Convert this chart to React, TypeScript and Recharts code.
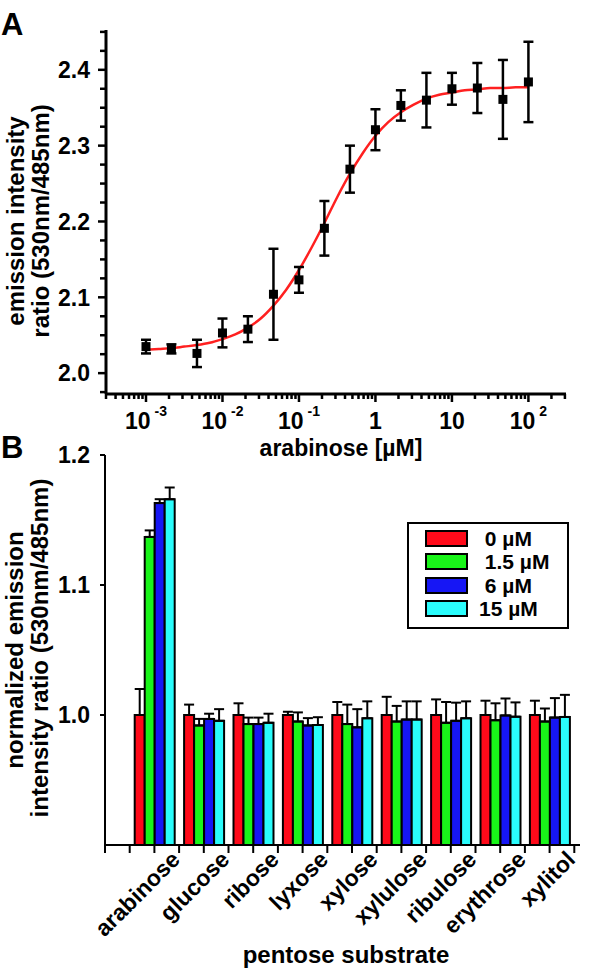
import React from "react";
import {
  ComposedChart, Line, Scatter, ErrorBar, XAxis, YAxis,
  BarChart, Bar, Legend,
} from "recharts";

const FONT = "'Liberation Sans', Arial, Helvetica, sans-serif";

// ---- panel A: titration with arabinose ----
const arabinoseConc = [0.001, 0.00215, 0.00464, 0.01, 0.0215, 0.0464, 0.1, 0.215, 0.464, 1, 2.15, 4.64, 10, 21.5, 46.4, 100];
const emissionRatio = [2.035, 2.032, 2.026, 2.053, 2.058, 2.104, 2.123, 2.191, 2.269, 2.321, 2.353, 2.360, 2.375, 2.376, 2.361, 2.384];
const emissionErr = [0.009, 0.006, 0.018, 0.019, 0.017, 0.060, 0.017, 0.036, 0.031, 0.027, 0.020, 0.036, 0.021, 0.033, 0.052, 0.053];

// fitted curve
const fitConc = [0.001, 0.00147, 0.00215, 0.00316, 0.00464, 0.00681, 0.01, 0.0147, 0.0215, 0.0316, 0.0464, 0.0681, 0.1, 0.147, 0.215, 0.316, 0.464, 0.681, 1, 1.47, 2.15, 3.16, 4.64, 6.81, 10, 14.7, 21.5, 31.6, 46.4, 68.1, 100];
const fitRatio = [2.031, 2.032, 2.033, 2.035, 2.037, 2.040, 2.045, 2.051, 2.060, 2.072, 2.089, 2.110, 2.136, 2.166, 2.198, 2.232, 2.263, 2.290, 2.313, 2.331, 2.344, 2.354, 2.362, 2.367, 2.370, 2.373, 2.374, 2.376, 2.376, 2.377, 2.377];

const xMajorTicks = [0.001, 0.01, 0.1, 1, 10, 100];
const xMajorBase = ["10", "10", "10", "1", "10", "10"];
const xMajorSup = ["-3", "-2", "-1", "", "", "2"];
const yMajorTicks = [2.0, 2.1, 2.2, 2.3, 2.4];
const yMajorLabels = ["2.0", "2.1", "2.2", "2.3", "2.4"];

// ---- panel B: substrate specificity ----
const substrates = ["arabinose", "glucose", "ribose", "lyxose", "xylose", "xylulose", "ribulose", "erythrose", "xylitol"];
const seriesNames = [" 0 µM", " 1.5 µM", " 6 µM", "15 µM"];
const ratio0 = [1.0, 1.0, 1.0, 1.0, 1.0, 1.0, 1.0, 1.0, 1.0];
const err0 = [0.020, 0.008, 0.009, 0.0025, 0.010, 0.014, 0.012, 0.011, 0.011];
const ratio1_5 = [1.137, 0.992, 0.993, 0.995, 0.993, 0.995, 0.994, 0.996, 0.995];
const err1_5 = [0.005, 0.005, 0.005, 0.007, 0.015, 0.012, 0.016, 0.013, 0.010];
const ratio6 = [1.163, 0.997, 0.993, 0.992, 0.9905, 0.9965, 0.9955, 0.9997, 0.998];
const err6 = [0.003, 0.004, 0.005, 0.0056, 0.014, 0.014, 0.014, 0.013, 0.015];
const ratio15 = [1.166, 0.9955, 0.994, 0.9923, 0.9975, 0.9965, 0.9975, 0.9987, 0.9985];
const err15 = [0.009, 0.009, 0.007, 0.006, 0.013, 0.014, 0.013, 0.011, 0.017];
const barYTicks = [1.0, 1.1, 1.2];
const barYLabels = ["1.0", "1.1", "1.2"];

const COLORS = ["#ff0a1a", "#19f519", "#1616f5", "#2afcfc"];

const scatterData = arabinoseConc.map((x, i) => ({ x, y: emissionRatio[i], err: emissionErr[i] }));
const fitData = fitConc.map((x, i) => ({ x, y: fitRatio[i] }));

const xMinorTicks: number[] = [];
for (let e = -4; e <= 2; e++) {
  for (let m = 2; m <= 9; m++) {
    const v = m * Math.pow(10, e);
    if (v >= 0.0003 && v <= 310) xMinorTicks.push(v);
  }
}
const xTicks = [...xMajorTicks, ...xMinorTicks].sort((a, b) => a - b);
const yTicks: number[] = [];
for (let i = 0; i < 20; i++) yTicks.push(Math.round((1.975 + i * 0.025) * 1000) / 1000);

const barValues = [ratio0, ratio1_5, ratio6, ratio15];
const barErrs = [err0, err1_5, err6, err15];
const barData = substrates.map((name, i) => {
  const row: Record<string, any> = { name };
  barValues.forEach((vals, s) => {
    row["s" + s] = vals[i];
    row["e" + s] = [0, barErrs[s][i]];
  });
  return row;
});

// layout of panel B x axis
const B_LEFT = 105;
const B_RIGHT = 580;
const PAD_L = 24.7;
const PAD_R = 5.7;
const BAND = (B_RIGHT - B_LEFT - PAD_L - PAD_R) / substrates.length;

const textStyle = { fontFamily: FONT, fontWeight: 700, fill: "#000" };

function LogTick(props: any) {
  const { x, y, payload } = props;
  const i = xMajorTicks.findIndex((t) => Math.abs(t - payload.value) / t < 1e-6);
  if (i < 0) return <line x1={x} x2={x} y1={y} y2={y + 5} stroke="#000" strokeWidth={2.5} />;
  return (
    <g>
      <line x1={x} x2={x} y1={y} y2={y + 8} stroke="#000" strokeWidth={2.5} />
      <text x={x} y={y + 35} textAnchor="middle" fontSize={23} style={textStyle}>
        {xMajorBase[i]}
        {xMajorSup[i] && <tspan dx={4} dy={-13} fontSize={14}>{xMajorSup[i]}</tspan>}
      </text>
    </g>
  );
}

function RatioTick(props: any) {
  const { x, y, payload } = props;
  const i = yMajorTicks.findIndex((t) => Math.abs(t - payload.value) < 1e-6);
  if (i < 0) return <line x1={x - 6} x2={x} y1={y} y2={y} stroke="#000" strokeWidth={2.5} />;
  return (
    <g>
      <line x1={x - 8} x2={x} y1={y} y2={y} stroke="#000" strokeWidth={2.5} />
      <text x={x - 16} y={y} dy="0.36em" textAnchor="end" fontSize={23} style={textStyle}>{yMajorLabels[i]}</text>
    </g>
  );
}

function NormTick(props: any) {
  const { x, y, payload } = props;
  const i = barYTicks.findIndex((t) => Math.abs(t - payload.value) < 1e-6);
  return (
    <g>
      <line x1={x - 5} x2={x} y1={y} y2={y} stroke="#000" strokeWidth={2} />
      <text x={x - 15} y={y} dy="0.36em" textAnchor="end" fontSize={23} style={textStyle}>{barYLabels[i]}</text>
    </g>
  );
}

function SubstrateTick(props: any) {
  const { x, y, payload, index } = props;
  const tx = x + 27;
  const ty = y + 16;
  return (
    <g>
      <line x1={x} x2={x} y1={y} y2={y + 8} stroke="#000" strokeWidth={2} />
      <line x1={x - BAND / 2} x2={x - BAND / 2} y1={y} y2={y + 8} stroke="#000" strokeWidth={2} />
      {index === 0 && <line x1={x - BAND} x2={x - BAND} y1={y} y2={y + 8} stroke="#000" strokeWidth={2} />}
      {index === substrates.length - 1 && (
        <line x1={x + BAND / 2} x2={x + BAND / 2} y1={y} y2={y + 8} stroke="#000" strokeWidth={2} />
      )}
      <text x={tx} y={ty} transform={`rotate(-45 ${tx} ${ty})`} textAnchor="end" fontSize={23} style={textStyle}>
        {payload.value}
      </text>
    </g>
  );
}

function Square(props: any) {
  const { cx, cy } = props;
  return <rect x={cx - 4.5} y={cy - 4.5} width={9} height={9} fill="#000" />;
}

function ConcLegend(props: any) {
  const items = props.payload || [];
  return (
    <div style={{ width: 162, height: 107, border: "2px solid #000", boxSizing: "border-box", position: "relative", background: "#fff" }}>
      {items.map((it: any, i: number) => (
        <div key={i} style={{ position: "absolute", left: 16, top: 6 + i * 23.3, height: 17, display: "flex", alignItems: "center" }}>
          <div style={{ width: 43, height: 17, background: it.color, border: "2px solid #000", boxSizing: "border-box" }} />
          <span style={{ marginLeft: 11, fontFamily: FONT, fontWeight: 700, fontSize: 21, whiteSpace: "pre", lineHeight: "17px" }}>
            {it.value}
          </span>
        </div>
      ))}
    </div>
  );
}

export default function App() {
  return (
    <div style={{ position: "absolute", left: 0, top: 0, width: 600, height: 971, background: "#fff" }}>
      <div style={{ position: "absolute", left: 0, top: 0 }}>
        <ComposedChart width={600} height={440} margin={{ top: 30, right: 34, bottom: 0, left: 46 }}>
          <XAxis
            dataKey="x" type="number" scale="log" domain={[0.0003, 310]} allowDataOverflow
            ticks={xTicks} interval={0} height={46} tickSize={0} tickMargin={0} tickLine={false}
            axisLine={{ stroke: "#000", strokeWidth: 3 }} tick={<LogTick />}
          />
          <YAxis
            type="number" domain={[1.9725, 2.4525]} allowDataOverflow ticks={yTicks} interval={0}
            width={60} tickSize={0} tickMargin={0} tickLine={false}
            axisLine={{ stroke: "#000", strokeWidth: 3 }} tick={<RatioTick />}
          />
          <Line data={fitData} dataKey="y" type="monotone" dot={false} stroke="#ff2020" strokeWidth={2.5} isAnimationActive={false} />
          <Scatter data={scatterData} dataKey="y" shape={<Square />} isAnimationActive={false}>
            <ErrorBar dataKey="err" direction="y" width={5} stroke="#000" strokeWidth={2.5} />
          </Scatter>
        </ComposedChart>
      </div>

      <div style={{ position: "absolute", left: 0, top: 440 }}>
        <BarChart width={600} height={531} data={barData} margin={{ top: 15, right: 600 - B_RIGHT, bottom: 0, left: B_LEFT - 60 }} barGap={0} barSize={10}>
          <XAxis
            dataKey="name" type="category" height={126} padding={{ left: PAD_L, right: PAD_R }}
            tickSize={0} tickMargin={0} tickLine={false} interval={0}
            axisLine={{ stroke: "#000", strokeWidth: 2 }} tick={<SubstrateTick />}
          />
          <YAxis
            type="number" domain={[0.9, 1.2]} ticks={barYTicks} interval={0} width={60}
            tickSize={0} tickMargin={0} tickLine={false}
            axisLine={{ stroke: "#000", strokeWidth: 2 }} tick={<NormTick />}
          />
          <Legend
            layout="vertical" align="center" verticalAlign="middle"
            wrapperStyle={{ left: 407, top: 82, width: 162 }}
            content={<ConcLegend />}
          />
          {seriesNames.map((name, s) => (
            <Bar key={s} dataKey={"s" + s} name={name} fill={COLORS[s]} stroke="#000" strokeWidth={2} isAnimationActive={false}>
              <ErrorBar dataKey={"e" + s} direction="y" width={5} stroke="#000" strokeWidth={2} />
            </Bar>
          ))}
        </BarChart>
      </div>

      <svg width={600} height={971} style={{ position: "absolute", left: 0, top: 0, pointerEvents: "none" }}>
        <text x={1} y={35} fontSize={31} style={textStyle}>A</text>
        <text x={1} y={458} fontSize={31} style={textStyle}>B</text>
        <g transform="translate(24 221) rotate(-90)">
          <text textAnchor="middle" fontSize={24} style={textStyle}>emission intensity</text>
        </g>
        <g transform="translate(49 221) rotate(-90)">
          <text textAnchor="middle" fontSize={24} style={textStyle}>ratio (530nm/485nm)</text>
        </g>
        <text x={341} y={456} textAnchor="middle" fontSize={23} style={textStyle}>arabinose [µM]</text>
        <g transform="translate(23 650) rotate(-90)">
          <text textAnchor="middle" fontSize={24} style={textStyle}>normalized emission</text>
        </g>
        <g transform="translate(48 648) rotate(-90)">
          <text textAnchor="middle" fontSize={24} style={textStyle}>intensity ratio (530nm/485nm)</text>
        </g>
        <text x={346} y={963} textAnchor="middle" fontSize={24} style={textStyle}>pentose substrate</text>
      </svg>
    </div>
  );
}
